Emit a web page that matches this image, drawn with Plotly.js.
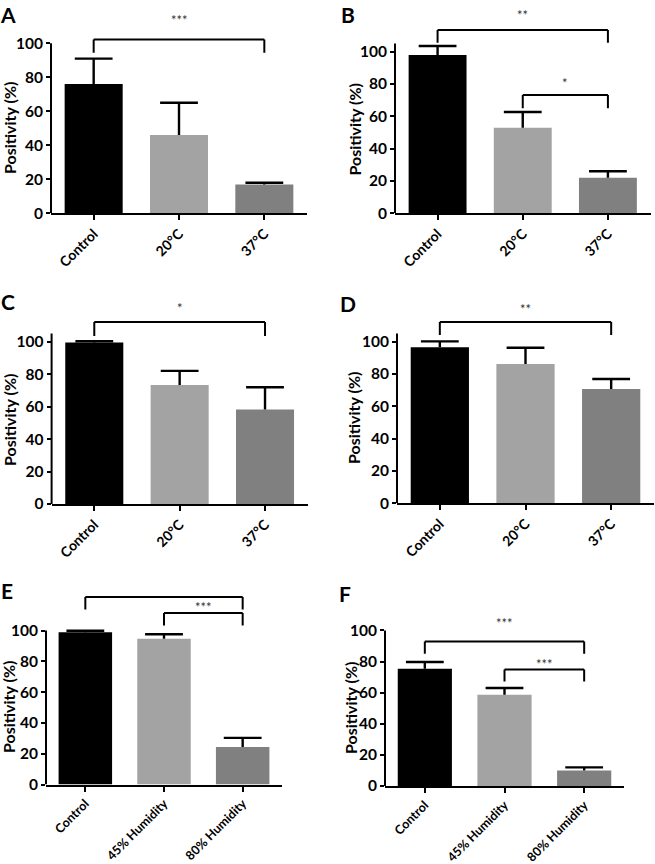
<!DOCTYPE html>
<html>
<head>
<meta charset="utf-8">
<script src="https://cdn.plot.ly/plotly-3.0.1.min.js"></script>
<style>html,body{margin:0;padding:0;background:#fff}#chart{width:655px;height:864px}</style>
</head>
<body>
<div id="chart"></div>
<script>
// ---- Data ----
const catsTemp = ['Control', '20°C', '37°C'];
const catsHum = ['Control', '45% Humidity', '80% Humidity'];

const meanA = [76, 46, 17];
const errA  = [15, 19, 1];
const meanB = [98, 53, 22];
const errB  = [5.5, 9.7, 4];
const meanC = [99.5, 73.3, 58.3];
const errC  = [0.8, 8.7, 13.6];
const meanD = [96.5, 86.2, 70.7];
const errD  = [3.7, 10.1, 6.2];
const meanE = [98.9, 94.6, 24.3];
const errE  = [0.9, 3.0, 6.0];
const meanF = [75.4, 58.7, 10];
const errF  = [4.3, 4.3, 2];

// significance brackets: [fromIndex, toIndex, barValue, legEndValue, label, labelValue]
const sigA = [[0, 2, 102.2, 94.5, '***', 113.5]];
const sigB = [[0, 2, 113.4, 105.6, '**', 123]];
const sigB2 = [[1, 2, 73.2, 65, '*', 80.5]];
const sigC = [[0, 2, 112.1, 103.5, '*', 120.5]];
const sigD = [[0, 2, 112.2, 104.2, '**', 120.5]];
const sigE = [[0, 2, 121.7, 113.6, '***', 126.5], [1, 2, 111.3, 103.2, '***', 115]];
const sigF = [[0, 2, 92.9, 85, '***', 104.5], [1, 2, 74.9, 67.2, '***', 78.5]];

const yTicks = [0, 20, 40, 60, 80, 100];
const barColors = ['#000000', '#a3a3a3', '#808080'];
const panelLetters = ['A', 'B', 'C', 'D', 'E', 'F'];
const yTitle = 'Positivity (%)';

// ---- Layout geometry (pixels in a 655x864 page) ----
const W = 655, H = 864;
const panels = [
  {cats: catsTemp, mean: meanA, err: errA, sig: sigA, axisTop: 100, px: [51, 307],    zero: 213.3, ppu: 1.70,  xfs: 14, letter: [8, 12],   title: [9, 128]},
  {cats: catsTemp, mean: meanB, err: errB, sig: sigB.concat(sigB2), axisTop: 105, px: [395, 650.5], zero: 213.3, ppu: 1.616, xfs: 14, letter: [348, 12], title: [353.5, 130]},
  {cats: catsTemp, mean: meanC, err: errC, sig: sigC, axisTop: 105, px: [51.6, 307.7], zero: 504,  ppu: 1.623, xfs: 14, letter: [8, 301],  title: [9, 420]},
  {cats: catsTemp, mean: meanD, err: errD, sig: sigD, axisTop: 105, px: [397, 654],   zero: 503.3, ppu: 1.616, xfs: 14, letter: [348, 303], title: [353, 418]},
  {cats: catsHum,  mean: meanE, err: errE, sig: sigE, axisTop: 100, px: [46, 282],    zero: 784.5, ppu: 1.54,  xfs: 12.5, letter: [7, 590],  title: [8, 707]},
  {cats: catsHum,  mean: meanF, err: errF, sig: sigF, axisTop: 100, px: [385, 624],   zero: 786,   ppu: 1.556, xfs: 12.5, letter: [345, 593], title: [350, 708]}
];
const RANGE_MAX = 125;

const FONT = 'Lato, Open Sans, sans-serif';
const traces = [];
const shapes = [];
const annotations = [];
const layout = {
  width: W, height: H,
  margin: {l: 0, r: 0, t: 0, b: 0},
  paper_bgcolor: '#ffffff', plot_bgcolor: 'rgba(0,0,0,0)',
  showlegend: false,
  bargap: 0.32,
  font: {family: FONT, color: '#000'}
};

panels.forEach((p, i) => {
  const n = i === 0 ? '' : String(i + 1);
  const xa = 'x' + n, ya = 'y' + n;
  const xDom = [p.px[0] / W, p.px[1] / W];
  const yDom = [1 - p.zero / H, 1 - (p.zero - p.ppu * RANGE_MAX) / H];

  // bars with upward error stems (no caps)
  traces.push({
    type: 'bar', x: p.cats, y: p.mean, xaxis: xa, yaxis: ya,
    marker: {color: barColors, line: {width: 0}},
    error_y: {type: 'data', symmetric: false, array: p.err, arrayminus: p.err.map(() => 0),
              color: '#000', thickness: 2.4, width: 0},
    hoverinfo: 'x+y'
  });
  // error caps (top of mean + error)
  traces.push({
    type: 'scatter', mode: 'markers', x: p.cats, y: p.mean.map((m, k) => m + p.err[k]),
    xaxis: xa, yaxis: ya, cliponaxis: false,
    marker: {symbol: 'line-ew', size: 27, color: '#000', line: {color: '#000', width: 2.4}},
    hoverinfo: 'skip'
  });

  layout['xaxis' + n] = {
    domain: xDom, anchor: ya, type: 'category', range: [-0.5, 2.5],
    showline: true, linewidth: 2, linecolor: '#000',
    ticks: 'outside', ticklen: 5, tickwidth: 2, tickcolor: '#000',
    tickangle: -45, tickfont: {family: FONT, size: p.xfs, weight: 700, color: '#000'},
    showgrid: false, zeroline: false, fixedrange: true
  };
  layout['yaxis' + n] = {
    domain: yDom, anchor: xa, range: [0, RANGE_MAX],
    showline: false, ticks: 'outside', ticklen: 4, tickwidth: 2, tickcolor: '#000',
    tickvals: yTicks, ticktext: yTicks.map(String),
    tickfont: {family: FONT, size: 15.5, weight: 700, color: '#000'},
    showgrid: false, zeroline: false, fixedrange: true
  };

  // y axis line up to its top value
  shapes.push({type: 'line', xref: xa + ' domain', yref: ya, x0: 0, x1: 0, y0: 0, y1: p.axisTop,
               line: {color: '#000', width: 2}});

  // significance brackets
  p.sig.forEach(s => {
    const [a, b, top, end, label, labY] = s;
    const ln = {color: '#000', width: 2};
    shapes.push({type: 'line', xref: xa, yref: ya, x0: a, x1: b, y0: top, y1: top, line: ln});
    shapes.push({type: 'line', xref: xa, yref: ya, x0: a, x1: a, y0: top, y1: end, line: ln});
    shapes.push({type: 'line', xref: xa, yref: ya, x0: b, x1: b, y0: top, y1: end, line: ln});
    annotations.push({xref: xa, yref: ya, x: (a + b) / 2, y: labY, text: label, showarrow: false,
                      xanchor: 'center', yanchor: 'middle',
                      font: {family: FONT, size: 13, color: '#333'}});
  });

  // y axis title
  annotations.push({xref: 'paper', yref: 'paper', x: p.title[0] / W, y: 1 - p.title[1] / H,
                    text: yTitle, textangle: -90, showarrow: false,
                    xanchor: 'center', yanchor: 'middle',
                    font: {family: FONT, size: 16, weight: 700, color: '#000'}});
  // panel letter (top row anchored at its top so it stays inside the page)
  const topRow = p.letter[1] < 30;
  annotations.push({xref: 'paper', yref: 'paper', x: p.letter[0] / W,
                    y: topRow ? 1 : 1 - p.letter[1] / H,
                    text: panelLetters[i], showarrow: false,
                    xanchor: 'center', yanchor: topRow ? 'top' : 'middle',
                    font: {family: FONT, size: 21, weight: 700, color: '#000'}});
});

layout.shapes = shapes;
layout.annotations = annotations;

Plotly.newPlot('chart', traces, layout, {staticPlot: true, displayModeBar: false});
</script>
</body>
</html>
